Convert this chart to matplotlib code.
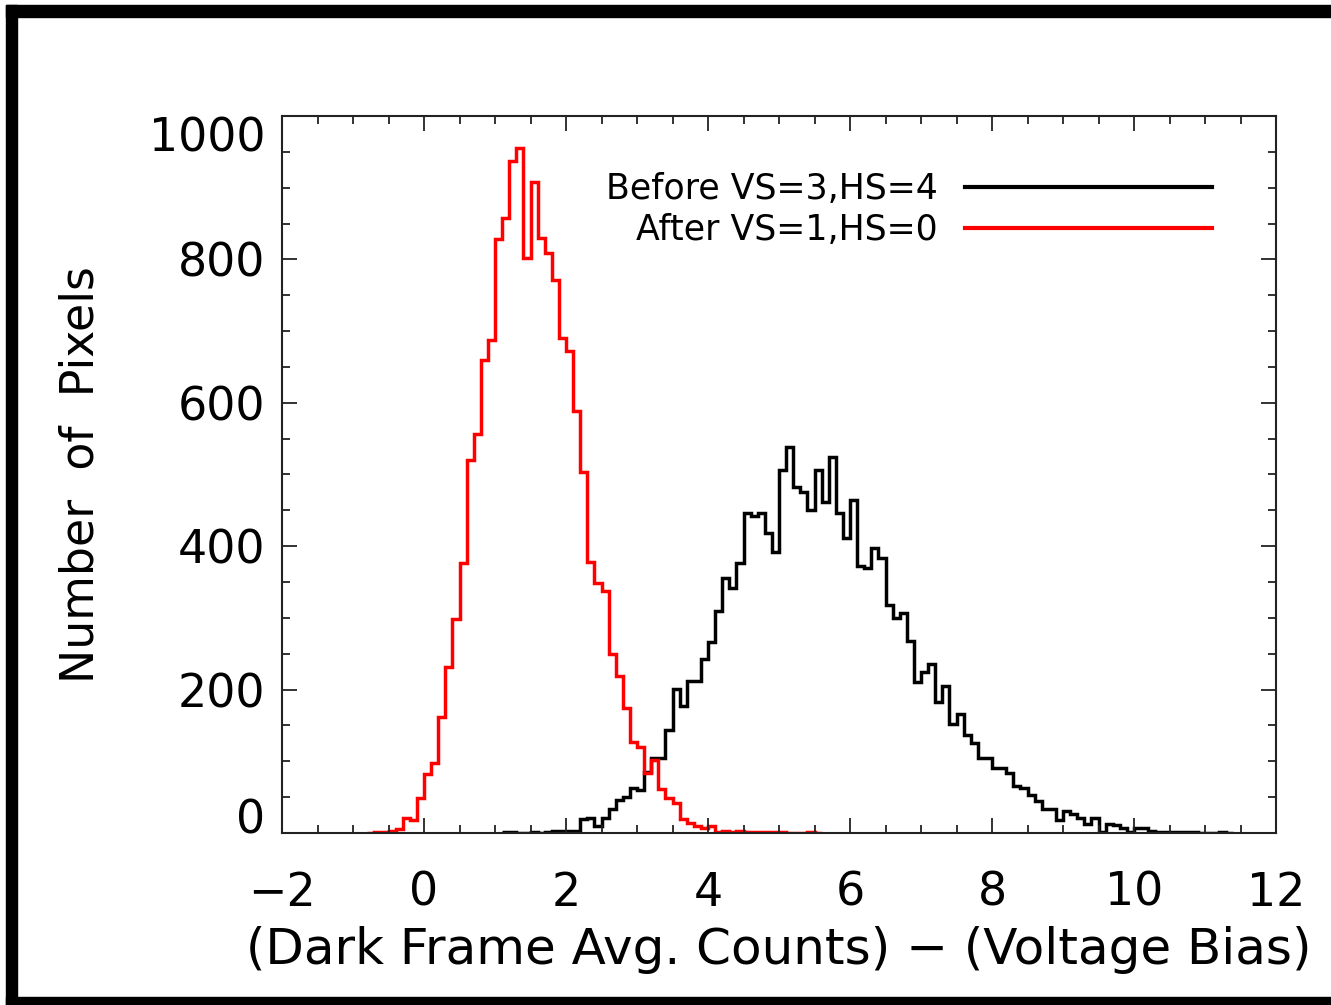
import matplotlib
matplotlib.use("Agg")
import matplotlib.pyplot as plt
import numpy as np
from matplotlib.patches import Rectangle

# histogram counts, bin width 0.1
bin_width = 0.1

after_start = -0.8
after_counts = [0, 1, 1, 3, 6, 21, 18, 49, 82, 98,
                162, 232, 299, 376, 520, 557, 659, 687, 829, 858,
                937, 955, 802, 908, 830, 809, 771, 691, 672, 589,
                503, 378, 348, 337, 250, 219, 175, 127, 120, 84,
                102, 61, 49, 42, 19, 14, 10, 7, 10, 2,
                3, 2, 3, 2, 1, 2, 1, 1, 1, 0,
                0, 0, 2, 0]

before_start = 1.1
before_counts = [1, 1, 0, 0, 2, 0, 2, 3, 3, 3,
                 3, 19, 21, 10, 21, 33, 46, 50, 63, 60,
                 85, 105, 105, 144, 201, 177, 212, 212, 243, 266,
                 310, 356, 342, 376, 446, 442, 447, 419, 392, 506,
                 538, 483, 476, 450, 506, 461, 524, 446, 412, 465,
                 373, 369, 398, 383, 318, 300, 307, 268, 210, 225,
                 236, 183, 205, 152, 166, 137, 125, 105, 105, 90,
                 90, 83, 65, 63, 53, 45, 33, 34, 18, 31,
                 26, 21, 13, 21, 1, 12, 11, 7, 1, 7,
                 7, 3, 2, 2, 2, 2, 1, 1, 0, 0,
                 0, 2, 0]

labels = ["Before VS=3,HS=4", "After VS=1,HS=0"]
xticks = [-2, 0, 2, 4, 6, 8, 10, 12]
yticks = [0, 200, 400, 600, 800, 1000]

W, H = 1331, 1005
fig = plt.figure(figsize=(W / 100, H / 100), dpi=100)
ax = fig.add_axes([282 / W, 1 - 833 / H, (1276 - 282) / W, (833 - 116) / H])

edges_after = after_start + bin_width * np.arange(len(after_counts) + 1)
edges_before = before_start + bin_width * np.arange(len(before_counts) + 1)

ax.stairs(before_counts, edges_before, color="black", lw=2.5, baseline=None, label=labels[0])
ax.stairs(after_counts, edges_after, color="red", lw=2.5, baseline=None, label=labels[1])

ax.set_xlim(-2, 12)
ax.set_ylim(0, 1000)
ax.set_xticks(xticks)
ax.set_yticks(yticks)
ax.set_xticks(np.arange(-2, 12.01, 0.5), minor=True)
ax.set_yticks(np.arange(0, 1000.1, 50), minor=True)
ax.set_xticklabels([("\u2212" + str(-t)) if t < 0 else str(t) for t in xticks])

ax.tick_params(which="both", direction="in", top=True, right=True, color="#222222", width=1.3)
ax.tick_params(which="major", length=11, labelsize=33, pad=12)
ax.tick_params(axis="x", which="major", pad=27)
ax.tick_params(which="minor", length=5.5)
for s in ax.spines.values():
    s.set_linewidth(1.5)
    s.set_color("#222222")

# end labels pulled inside the axis range, like the original
ylabs = ax.get_yticklabels()
ylabs[0].set_va("baseline")
ylabs[-1].set_va("top")

ax.set_xlabel("(Dark Frame Avg. Counts) \u2212 (Voltage Bias)", fontsize=36)
ax.set_ylabel("Number  of  Pixels", fontsize=33)
ax.xaxis.set_label_coords(0.5, -0.13)
ax.yaxis.set_label_coords(-0.18, 0.5)

leg = ax.legend(loc="upper right", bbox_to_anchor=(0.9356, 0.922), frameon=False,
                markerfirst=False, fontsize=25, handlelength=7.1, handletextpad=0.8,
                labelspacing=0.2, borderpad=0, borderaxespad=0)
for ln in leg.get_lines():
    ln.set_linewidth(3)

# black frame around the picture
fig.patches.append(Rectangle((6 / W, 0), 11 / W, 1 - 5 / H, transform=fig.transFigure,
                             color="black", zorder=10))
fig.patches.append(Rectangle((6 / W, 1 - 17 / H), 1, 12 / H, transform=fig.transFigure,
                             color="black", zorder=10))
fig.patches.append(Rectangle((6 / W, 0), 1, 8 / H, transform=fig.transFigure,
                             color="black", zorder=10))

fig.savefig("out.png", dpi=100)
